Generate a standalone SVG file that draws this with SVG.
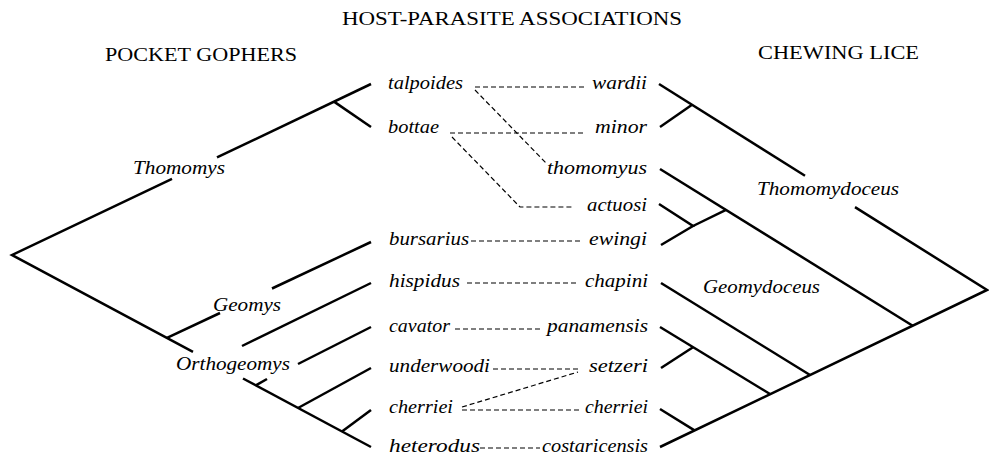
<svg xmlns="http://www.w3.org/2000/svg" width="989" height="457" viewBox="0 0 989 457">
<style>
.bg{fill:#fff}
.br{stroke:#000;stroke-width:2.5;fill:none}
.dl{stroke:#000;stroke-width:1.2;stroke-dasharray:5 3;fill:none}
.hd{font-family:"Liberation Serif",serif;font-size:18px;fill:#000}
.sp{font-family:"Liberation Serif",serif;font-style:italic;font-size:19px;fill:#000}
</style>
<rect class="bg" width="989" height="457"/>
<g id="headings">
<text class="hd" x="342" y="25" textLength="340" lengthAdjust="spacingAndGlyphs">HOST-PARASITE ASSOCIATIONS</text>
<text class="hd" x="105" y="61" textLength="192" lengthAdjust="spacingAndGlyphs">POCKET GOPHERS</text>
<text class="hd" x="758" y="59" textLength="161" lengthAdjust="spacingAndGlyphs">CHEWING LICE</text>
</g>
<g id="gopher-tree">
<polyline class="br" points="172,178.8 12,255 193,351.8"/>
<line class="br" x1="217" y1="157.4" x2="371" y2="84"/>
<line class="br" x1="334" y1="101.6" x2="371" y2="127"/>
<line class="br" x1="243" y1="378.5" x2="371" y2="447"/>
<line class="br" x1="167" y1="337.9" x2="220" y2="313"/>
<line class="br" x1="272" y1="288.5" x2="371" y2="242"/>
<line class="br" x1="242" y1="346" x2="371" y2="283"/>
<line class="br" x1="255.8" y1="385.4" x2="267" y2="379"/>
<line class="br" x1="298" y1="364" x2="371" y2="327"/>
<line class="br" x1="298" y1="408" x2="371" y2="368"/>
<line class="br" x1="342" y1="431.5" x2="371" y2="410"/>
</g>
<g id="louse-tree">
<line class="br" x1="659" y1="84" x2="805" y2="175.7"/>
<polyline class="br" points="855,207.1 987,290 660,447"/>
<line class="br" x1="660" y1="127" x2="692" y2="104.7"/>
<line class="br" x1="660" y1="169" x2="912.7" y2="325.7"/>
<polyline class="br" points="659,204 693,226 661,245"/>
<line class="br" x1="693" y1="226" x2="726" y2="209.9"/>
<line class="br" x1="661" y1="283" x2="810" y2="375"/>
<line class="br" x1="660" y1="327" x2="770" y2="394"/>
<line class="br" x1="661" y1="368" x2="693" y2="347.2"/>
<line class="br" x1="660" y1="409" x2="694.5" y2="430.4"/>
</g>
<g id="clade-labels">
<text class="sp" x="133" y="174" textLength="92" lengthAdjust="spacingAndGlyphs">Thomomys</text>
<text class="sp" x="213" y="311" textLength="68" lengthAdjust="spacingAndGlyphs">Geomys</text>
<text class="sp" x="176" y="370" textLength="114" lengthAdjust="spacingAndGlyphs">Orthogeomys</text>
<text class="sp" x="757" y="195" textLength="142" lengthAdjust="spacingAndGlyphs">Thomomydoceus</text>
<text class="sp" x="703" y="293" textLength="117" lengthAdjust="spacingAndGlyphs">Geomydoceus</text>
</g>
<g id="connectors">
<line class="dl" x1="475" y1="87" x2="585" y2="87"/>
<line class="dl" x1="475" y1="90" x2="546" y2="163"/>
<line class="dl" x1="450" y1="133" x2="585" y2="133"/>
<polyline class="dl" points="452,137 520,207 573,207"/>
<line class="dl" x1="471" y1="241" x2="580" y2="241"/>
<line class="dl" x1="467" y1="283" x2="579" y2="283"/>
<line class="dl" x1="455" y1="329" x2="542" y2="329"/>
<line class="dl" x1="493" y1="369" x2="578" y2="369"/>
<line class="dl" x1="462" y1="407" x2="578" y2="372"/>
<line class="dl" x1="462" y1="410" x2="582" y2="410"/>
<line class="dl" x1="480" y1="448" x2="540" y2="448"/>
</g>
<g id="host-talpoides"><text class="sp" x="388" y="89" textLength="75" lengthAdjust="spacingAndGlyphs">talpoides</text></g>
<g id="host-bottae"><text class="sp" x="388" y="133" textLength="51" lengthAdjust="spacingAndGlyphs">bottae</text></g>
<g id="host-bursarius"><text class="sp" x="389" y="245" textLength="80" lengthAdjust="spacingAndGlyphs">bursarius</text></g>
<g id="host-hispidus"><text class="sp" x="389" y="287" textLength="71" lengthAdjust="spacingAndGlyphs">hispidus</text></g>
<g id="host-cavator"><text class="sp" x="389" y="332" textLength="61" lengthAdjust="spacingAndGlyphs">cavator</text></g>
<g id="host-underwoodi"><text class="sp" x="389" y="372" textLength="101" lengthAdjust="spacingAndGlyphs">underwoodi</text></g>
<g id="host-cherriei"><text class="sp" x="389" y="413" textLength="64" lengthAdjust="spacingAndGlyphs">cherriei</text></g>
<g id="host-heterodus"><text class="sp" x="389" y="452" textLength="91" lengthAdjust="spacingAndGlyphs">heterodus</text></g>
<g id="louse-wardii"><text class="sp" x="592" y="89" textLength="55" lengthAdjust="spacingAndGlyphs">wardii</text></g>
<g id="louse-minor"><text class="sp" x="595" y="133" textLength="52" lengthAdjust="spacingAndGlyphs">minor</text></g>
<g id="louse-thomomyus"><text class="sp" x="547" y="174" textLength="100" lengthAdjust="spacingAndGlyphs">thomomyus</text></g>
<g id="louse-actuosi"><text class="sp" x="587" y="211" textLength="60" lengthAdjust="spacingAndGlyphs">actuosi</text></g>
<g id="louse-ewingi"><text class="sp" x="589" y="245" textLength="58" lengthAdjust="spacingAndGlyphs">ewingi</text></g>
<g id="louse-chapini"><text class="sp" x="585" y="287" textLength="63" lengthAdjust="spacingAndGlyphs">chapini</text></g>
<g id="louse-panamensis"><text class="sp" x="547" y="332" textLength="101" lengthAdjust="spacingAndGlyphs">panamensis</text></g>
<g id="louse-setzeri"><text class="sp" x="589" y="372" textLength="59" lengthAdjust="spacingAndGlyphs">setzeri</text></g>
<g id="louse-cherriei"><text class="sp" x="585" y="413" textLength="63" lengthAdjust="spacingAndGlyphs">cherriei</text></g>
<g id="louse-costaricensis"><text class="sp" x="542" y="452" textLength="106" lengthAdjust="spacingAndGlyphs">costaricensis</text></g>
</svg>
